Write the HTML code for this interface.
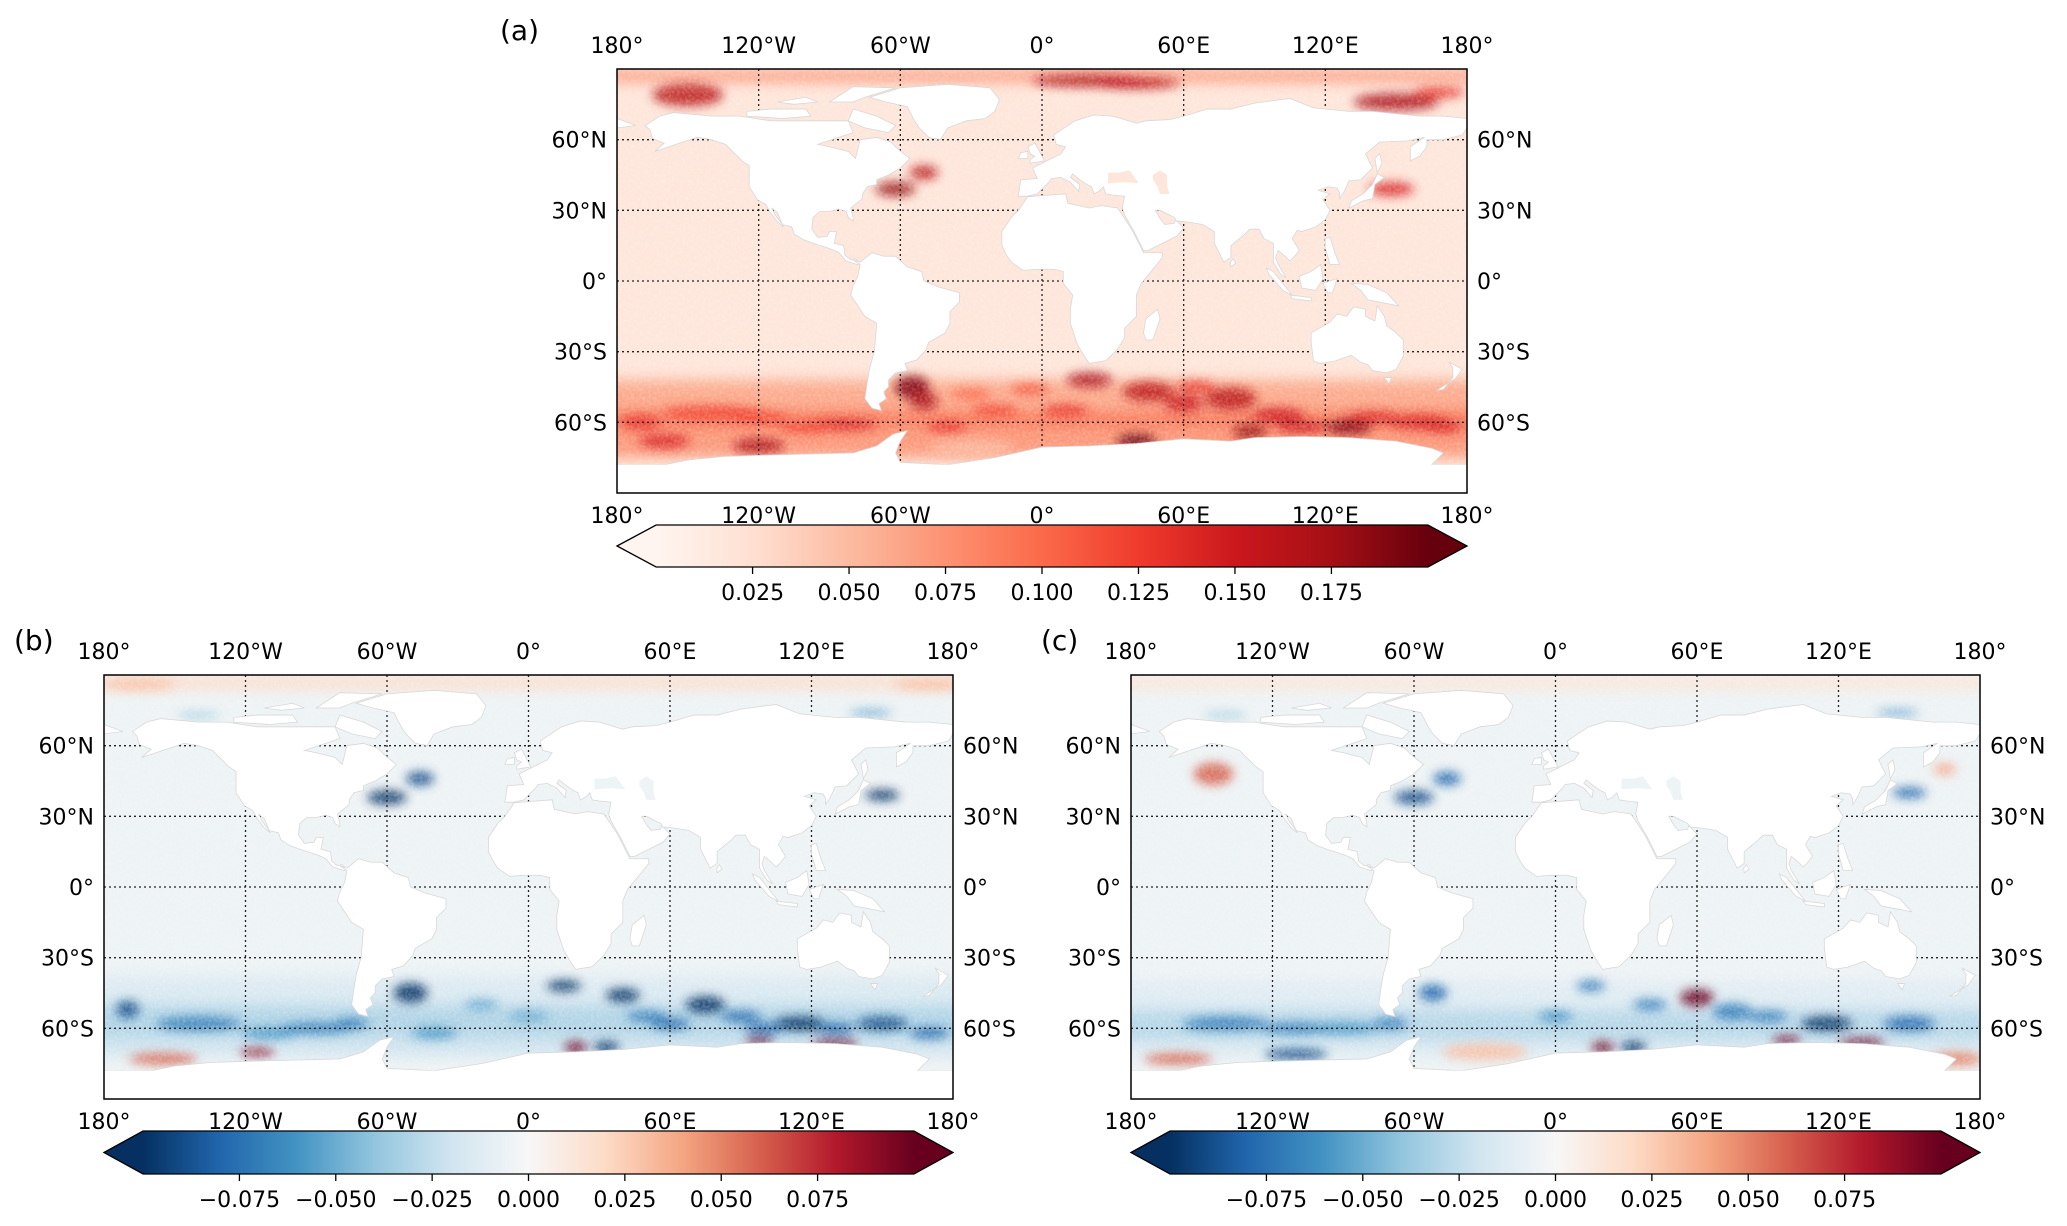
<!DOCTYPE html>
<html><head><meta charset="utf-8">
<style>
html,body{margin:0;padding:0;background:#fff;}
svg{display:block;font-family:"DejaVu Sans","Liberation Sans",sans-serif;}
</style></head>
<body>
<svg id="fig" width="2067" height="1226" viewBox="0 0 2067 1226" xmlns="http://www.w3.org/2000/svg">
<defs>
<filter id="blur6" x="-50%" y="-50%" width="200%" height="200%"><feGaussianBlur stdDeviation="7"/></filter>
<filter id="blur3" x="-50%" y="-50%" width="200%" height="200%"><feGaussianBlur stdDeviation="5"/></filter>
<filter id="noise" x="0" y="0" width="100%" height="100%">
<feTurbulence type="fractalNoise" baseFrequency="0.35" numOctaves="2" seed="3"/>
<feColorMatrix type="matrix" values="0 0 0 0 1  0 0 0 0 1  0 0 0 0 1  0 0 0 -1.6 1.0"/>
</filter>
</defs>
</svg>
<script>
// ---------- data ----------
const lonTicks=[-180,-120,-60,0,60,120,180];
const lonTickLabels=["180°","120°W","60°W","0°","60°E","120°E","180°"];
const latTicks=[60,30,0,-30,-60];
const latTickLabels=["60°N","30°N","0°","30°S","60°S"];
const cbarTicksA=[0.025,0.05,0.075,0.1,0.125,0.15,0.175];
const cbarLabelsA=["0.025","0.050","0.075","0.100","0.125","0.150","0.175"];
const cbarTicksB=[-0.075,-0.05,-0.025,0,0.025,0.05,0.075];
const cbarLabelsB=["\u22120.075","\u22120.050","\u22120.025","0.000","0.025","0.050","0.075"];
// background bands: lat north, lat south, value
const bandNA=[89,-42,-55,-62],bandSA=[85,-75,-62,-75],bandVA=[0.08,0.06,0.09,0.07];
// hotspots [lon, lat, lonSpan, latSpan, value]
const hotLonA=[-150,20,40,150,168,-62,-50,148,-55,-50,20,45,80,40,88,130,-120,-160,-85,-140,160,-30,-170,100,60,-40,-5,-120,-100,-20,10,110,140,170,65,-30];
const hotLatA=[79,85,84,76,80,39,46,39,-45,-51,-42,-47,-50,-68,-64,-62,-70,-68,-61,-56,-60,-71,-60,-57,-52,-62,-46,-58,-62,-55,-55,-62,-58,-62,-45,-48];
const hotWA=[25,40,30,30,18,14,10,16,12,10,16,18,18,14,12,16,18,18,25,35,22,30,14,18,14,14,14,20,20,16,16,18,18,14,14,14];
const hotHA=[8,4,4,6,4,5,5,5,8,6,5,7,8,5,5,5,5,5,4,5,5,6,5,5,6,4,4,4,4,4,4,4,4,4,4,4];
const hotVA=[0.16,0.17,0.16,0.17,0.13,0.18,0.16,0.14,0.19,0.17,0.17,0.16,0.16,0.2,0.18,0.19,0.17,0.14,0.14,0.12,0.14,0.05,0.13,0.15,0.15,0.13,0.11,0.12,0.12,0.12,0.13,0.15,0.14,0.14,0.13,0.1];

const bandNB=[90,-38,-50,-64],bandSB=[84,-50,-64,-72],bandVB=[0.018,-0.015,-0.03,-0.02];
const hotLonB=[-60,-46,150,-50,15,40,75,115,150,-140,-170,-155,-115,20,33,130,98,-165,170,-140,145,-90,60,-40,0,-110,-75,90,170,-20,50,100,130];
const hotLatB=[38,46,39,-45,-42,-46,-50,-58,-58,-58,-52,-73,-70,-68,-68,-66,-65,86,86,73,74,-60,-58,-62,-55,-62,-58,-55,-62,-50,-55,-60,-60];
const hotWB=[14,10,12,12,12,12,14,18,18,30,8,24,12,8,9,16,10,25,25,15,15,25,14,16,14,20,12,14,14,12,14,14,14];
const hotHB=[5,5,4,7,4,5,6,5,5,5,6,4,3,4,4,3,3,4,4,2,2,4,4,4,4,4,4,4,4,4,4,4,4];
const hotVB=[-0.1,-0.09,-0.1,-0.11,-0.1,-0.1,-0.1,-0.11,-0.09,-0.07,-0.09,0.06,0.09,0.13,-0.13,0.11,0.1,0.03,0.03,-0.04,-0.06,-0.07,-0.08,-0.06,-0.05,-0.06,-0.07,-0.08,-0.08,-0.05,-0.07,-0.08,-0.08];

const bandNC=[90,-40,-52,-65],bandSC=[84,-52,-65,-72],bandVC=[0.012,-0.012,-0.028,-0.015];
const hotLonC=[-60,-46,150,-145,-52,15,60,75,115,150,-140,-160,-110,20,33,130,98,-110,170,-140,145,-90,-30,165,-70,0,90,40];
const hotLatC=[38,46,40,48,-45,-42,-47,-53,-58,-58,-58,-73,-71,-68,-68,-66,-65,-60,-73,73,74,-60,-70,50,-58,-55,-55,-50];
const hotWC=[14,10,12,14,10,10,12,14,18,18,30,24,22,8,9,16,10,25,18,15,15,25,30,8,12,12,14,12];
const hotHC=[5,5,4,8,6,4,6,6,5,5,5,4,4,4,4,3,3,4,5,2,2,4,6,4,4,4,4,4];
const hotVC=[-0.09,-0.08,-0.08,0.06,-0.08,-0.07,0.1,-0.07,-0.1,-0.08,-0.07,0.06,-0.09,0.1,-0.13,0.11,0.1,-0.07,0.05,-0.04,-0.06,-0.06,0.03,0.04,-0.07,-0.06,-0.07,-0.07];

// ---------- land polygons (lon,lat) ----------
const LAND=[
[[-168,66],[-162,70],[-156,71.5],[-140,70],[-128,70],[-115,68],[-95,68],[-82,68],[-80,63],[-95,58],[-90,57],[-82,55],[-79,52],[-77,60],[-70,61],[-64,59],[-61,56],[-56,52],[-60,48],[-65,45],[-70,43],[-70,41],[-74,40],[-76,37],[-76,35],[-81,31],[-80,27],[-80,25.5],[-82,27],[-83,29.5],[-86,30.5],[-90,29.5],[-94,29.5],[-97,27],[-97.5,22],[-95,18.5],[-91,19],[-90,21],[-87,21],[-88,16],[-84,15],[-83.5,11],[-81,9],[-79,9.5],[-77.5,8],[-78,7],[-80,7.5],[-83,8.5],[-86,12],[-88,13],[-92,14.5],[-96,15.7],[-101,17.5],[-105,20],[-106,23],[-110,24],[-112,29],[-114.5,31],[-113,28],[-110,24],[-109.5,23],[-112,25],[-115,29],[-117,32.5],[-120.5,34.5],[-124,40],[-124,46],[-124,49],[-127,51],[-130,54],[-134,58],[-140,60],[-146,61],[-152,59],[-158,57],[-164,55],[-160,58.5],[-165,60.5],[-166,64],[-168,66]],
[[-73,78],[-60,82],[-40,83.5],[-22,82],[-18,77],[-20,72],[-24,69],[-32,68],[-40,65],[-43,60],[-48,61],[-52,65],[-54,68],[-57,74],[-66,76],[-73,78]],
[[-80,73],[-70,70],[-62,66],[-65,63],[-75,65],[-82,68]],
[[-90,76],[-80,82.5],[-62,82],[-75,78],[-80,76]],
[[-125,72],[-115,73],[-100,73],[-98,70],[-110,69],[-125,70]],
[[-112,76],[-100,78],[-95,76],[-105,75]],
[[-80,9],[-77,8],[-72,12],[-67,10.5],[-62,10.5],[-57,6],[-51,4],[-50,0],[-44,-2.5],[-35,-5],[-35,-9],[-39,-13],[-39,-18],[-41,-22],[-48,-26],[-49,-29],[-53,-33.5],[-58,-35],[-57,-38],[-62,-39],[-65,-42],[-65,-45],[-67,-47],[-66,-50],[-69,-52],[-68,-55],[-72,-54],[-75,-50],[-74,-43],[-73,-37],[-71,-30],[-70,-18],[-75,-15],[-77,-12],[-81,-6],[-80,-2],[-78,2],[-77,7]],
[[-17,15],[-17,21],[-13,27],[-10,30],[-6,35.8],[10,37],[11,33],[20,31],[25,32],[32,31],[34,28],[38,22],[43,12],[51,12],[51,10],[47,5],[42,-1],[40,-6],[40,-10],[40,-15],[35,-20],[35,-24],[32,-29],[27,-33.8],[20,-35],[18,-32],[15,-27],[12,-18],[12,-12],[13,-6],[9,-1],[9,4],[5,5],[-2,5],[-8,4.5],[-13,8],[-15,11]],
[[44,-25],[47,-25],[50,-16],[49,-12],[44,-16],[43,-22]],
[[-10,36],[-9,43],[-2,43.5],[-4,48],[2,51],[8,54],[10,57],[6,58],[5,62],[14,68],[22,70.5],[30,70],[40,67],[44,68],[54,68.5],[60,70],[70,73],[80,73],[90,75.5],[105,77.5],[115,73.5],[130,72],[140,72],[150,71],[160,70],[170,70],[180,69],[180,65],[178,62],[170,60],[163,60],[163,57],[160,53],[156,51],[156,57],[162,61],[155,59.5],[143,59],[137,54],[140,48],[135,43],[130,42.5],[128,38],[126,35],[126,37.5],[125,39.5],[121,40],[117,38.5],[122,37],[119,34.5],[122,30],[120,26],[116,23],[110,21],[108,21.5],[106,18],[109,13],[107,10.5],[105,8.5],[103,10.5],[100,13],[99,10],[100,7],[103.5,1.3],[101,3],[98,8],[98,16],[94,18],[92,22],[88,22],[86,20],[80,15],[80,10],[77,8],[73,16],[73,21],[68,24],[62,25],[57,25.5],[56,27],[50,30],[48,30],[50,26.5],[52,24],[56,24.5],[56.5,26],[60,22.5],[57,19],[52,16.5],[45,13],[43,13],[39,21],[35,28],[34,31],[35,36],[30,36.5],[27,37],[26,40],[24,38],[22,37],[21,40],[19,41],[16,43],[13,45.5],[12,44],[16,41],[15.5,38],[12,42],[8,44],[4,43.5],[3,42],[0,39],[-2,37],[-6,36]],
[[-180,69],[-172,66],[-180,65]],
[[-5,50],[1,51],[0,53],[-3,58.5],[-6,57],[-5,54],[-3,53],[-5,51.5]],
[[-10,52],[-6,52],[-6,55],[-9,54.5]],
[[130,31],[136,34],[140,35],[141,41],[145,44],[142,45.5],[140,41],[136,37],[131,34]],
[[142,46],[144,50],[143,54],[141,52]],
[[95,5.5],[98,4],[106,-6],[102,-4],[96,3]],
[[109,2],[114,4],[118,7],[119,1],[116,-4],[110,-3]],
[[105,-6],[114,-7],[114,-8.5],[106,-7.5]],
[[131,-1],[138,-1.5],[146,-5],[151,-10.5],[143,-9],[138,-8],[135,-4]],
[[120,18],[122,18.5],[124,12],[126,7],[122,7],[120,14]],
[[119,-1],[125,1],[123,-5],[121,-5]],
[[114,-22],[114,-26],[115,-34],[118,-35],[124,-34],[131,-31.5],[135,-34.5],[138,-35.5],[140,-38],[146,-39],[150,-37.5],[153,-32],[153,-25],[150,-22],[146,-19],[145,-15],[142,-10.5],[141,-17],[137,-15],[137,-12],[132,-11],[129,-15],[125,-14],[122,-17.5]],
[[145,-41],[148,-41],[147,-43.5]],
[[172.5,-34.5],[178,-37.5],[175,-41.5],[171,-44],[167,-46.5],[170,-46],[174,-41],[174,-37]],
[[80,6],[82,7.5],[81,9.5],[79.8,8]],
[[-180,-78],[-160,-78],[-150,-76],[-135,-74.5],[-120,-74],[-100,-73.5],[-80,-73],[-70,-70],[-63,-65],[-57,-63.5],[-60,-68],[-62,-73],[-60,-77],[-40,-78],[-20,-75],[0,-70.5],[20,-70],[40,-69],[60,-67],[80,-68],[90,-66.5],[110,-66],[130,-66.5],[150,-68],[165,-71],[170,-73],[165,-78],[180,-78],[180,-90],[-180,-90]]
];
const SEAS=[[[28,41.5],[28,46],[33,46],[37,47],[41,41.5],[35,42]],[[47,45],[50,47],[53,45],[53,40],[54,37],[50,37],[49,40],[47,43]]];

const REDS=["#fff5f0","#fee0d2","#fcbba1","#fc9272","#fb6a4a","#ef3b2c","#cb181d","#a50f15","#67000d"];
const RDBU=["#053061","#2166ac","#4393c3","#92c5de","#d1e5f0","#f7f7f7","#fddbc7","#f4a582","#d6604d","#b2182b","#67001f"];

// ---------- helpers ----------
const NS="http://www.w3.org/2000/svg";
const svg=document.getElementById('fig');
const defs=svg.querySelector('defs');
function mk(tag,attrs,parent){const e=document.createElementNS(NS,tag);for(const k in attrs)e.setAttribute(k,attrs[k]);(parent||svg).appendChild(e);return e;}
function hex(c){return [parseInt(c.slice(1,3),16),parseInt(c.slice(3,5),16),parseInt(c.slice(5,7),16)];}
function cmap(stops,t){t=Math.max(0,Math.min(1,t));const n=stops.length-1;const i=Math.min(n-1,Math.floor(t*n));const f=t*n-i;const a=hex(stops[i]),b=hex(stops[i+1]);return "rgb("+a.map((v,k)=>Math.round(v+(b[k]-v)*f)).join(",")+")";}

function panel(id,x0,y0,W,H,stops,vmin,vmax,base,bN,bS,bV,hL,hT,hW,hH,hV,label,lx,ly){
  const X=lon=>x0+(lon+180)*W/360, Y=lat=>y0+(90-lat)*H/180;
  const col=v=>cmap(stops,(v-vmin)/(vmax-vmin));
  const cp=mk('clipPath',{id:'clip'+id},defs);
  mk('rect',{x:x0,y:y0,width:W,height:H},cp);
  const g=mk('g',{'clip-path':'url(#clip'+id+')'});
  
  
  const bg=mk('rect',{x:x0,y:y0,width:W,height:H,fill:col(base)},g);
  
  
  const gb=mk('g',{filter:'url(#blur6)'},g);
  for(let i=0;i<bV.length;i++){
    const r=mk('rect',{x:x0-20,y:Y(bN[i]),width:W+40,height:Y(bS[i])-Y(bN[i]),fill:col(bV[i])},gb);
    
    
  }
  const gh=mk('g',{filter:'url(#blur3)'},g);
  for(let i=0;i<hV.length;i++){
    const e=mk('ellipse',{cx:X(hL[i]),cy:Y(hT[i]),rx:hW[i]*W/600,ry:hH[i]*H/300,fill:col(hV[i]),opacity:0.85},gh);
    
    
  }
  const nz=mk('rect',{x:x0,y:y0,width:W,height:H,filter:'url(#noise)',opacity:0.3},g);
  
  
  // gridlines
  const gg=mk('g',{stroke:'#222','stroke-width':1.3,'stroke-dasharray':'2,3'},g);
  for(const lo of lonTicks.slice(1,-1)){const l=mk('line',{x1:X(lo),x2:X(lo),y1:y0,y2:Y(-85)},gg);}
  for(const la of latTicks){const l=mk('line',{x1:x0,x2:x0+W,y1:Y(la),y2:Y(la)},gg);}
  // land
  const gl=mk('g',{fill:'#fff',stroke:'#d8d8d8','stroke-width':0.8},g);
  for(const poly of LAND){const p=mk('polygon',{points:poly.map(q=>X(q[0])+','+Y(q[1])).join(' ')},gl);}
  const nodata=mk('rect',{x:x0,y:Y(-78),width:W,height:Y(-90)-Y(-78),fill:'#fff'},g);
  
  
  for(const poly of SEAS){const p=mk('polygon',{points:poly.map(q=>X(q[0])+','+Y(q[1])).join(' '),fill:col(base)},g);}
  const fr=mk('rect',{x:x0,y:y0,width:W,height:H,fill:'none',stroke:'#000','stroke-width':1.5});
  
  
  // tick labels
  lonTicks.forEach((lo,i)=>{
    const t=mk('text',{x:X(lo),y:y0-16,'text-anchor':'middle','font-size':22});t.textContent=lonTickLabels[i];
    
    const b=mk('text',{x:X(lo),y:y0+H+30,'text-anchor':'middle','font-size':22});b.textContent=lonTickLabels[i];
    
  });
  latTicks.forEach((la,i)=>{
    const t=mk('text',{x:x0-10,y:Y(la)+8,'text-anchor':'end','font-size':22});t.textContent=latTickLabels[i];
    
    const r=mk('text',{x:x0+W+10,y:Y(la)+8,'text-anchor':'start','font-size':22});r.textContent=latTickLabels[i];
    
  });
  const pl=mk('text',{x:lx,y:ly,'font-size':28});pl.textContent=label;
  
}

function colorbar(id,x0,x1,y0,y1,stops,vmin,vmax,ticks,labels){
  const tri=(x1-x0)*0.046;
  const ix0=x0+tri, ix1=x1-tri;
  const lg=mk('linearGradient',{id:'grad'+id,x1:0,y1:0,x2:1,y2:0},defs);
  stops.forEach((c,i)=>mk('stop',{offset:i/(stops.length-1),'stop-color':c},lg));
  const ym=(y0+y1)/2;
  const cb=mk('g',{});
  
  
  mk('polygon',{points:`${x0},${ym} ${ix0},${y0} ${ix0},${y1}`,fill:stops[0]},cb);
  mk('polygon',{points:`${x1},${ym} ${ix1},${y0} ${ix1},${y1}`,fill:stops[stops.length-1]},cb);
  mk('rect',{x:ix0-0.5,y:y0,width:ix1-ix0+1,height:y1-y0,fill:'url(#grad'+id+')'},cb);
  mk('polygon',{points:`${x0},${ym} ${ix0},${y0} ${ix1},${y0} ${x1},${ym} ${ix1},${y1} ${ix0},${y1}`,fill:'none',stroke:'#000','stroke-width':1.3},cb);
  const Xc=v=>ix0+(v-vmin)/(vmax-vmin)*(ix1-ix0);
  ticks.forEach((v,i)=>{
    const l=mk('line',{x1:Xc(v),x2:Xc(v),y1:y1,y2:y1+7,stroke:'#000','stroke-width':1.3},cb);
    
    const t=mk('text',{x:Xc(v),y:y1+33,'text-anchor':'middle','font-size':22},cb);t.textContent=labels[i];
    
  });
}

panel('a',617,69,850,424,REDS,0,0.2,0.018,bandNA,bandSA,bandVA,hotLonA,hotLatA,hotWA,hotHA,hotVA,'(a)',500,40);
panel('b',104,675,849,424,RDBU,-0.1,0.1,-0.005,bandNB,bandSB,bandVB,hotLonB,hotLatB,hotWB,hotHB,hotVB,'(b)',14,650);
panel('c',1131,675,849,424,RDBU,-0.1,0.1,-0.005,bandNC,bandSC,bandVC,hotLonC,hotLatC,hotWC,hotHC,hotVC,'(c)',1041,650);
colorbar('a',617,1467,525,567,REDS,0,0.2,cbarTicksA,cbarLabelsA);
colorbar('b',104,953,1131,1174,RDBU,-0.1,0.1,cbarTicksB,cbarLabelsB);
colorbar('c',1131,1980,1131,1174,RDBU,-0.1,0.1,cbarTicksB,cbarLabelsB);
</script>
</body></html>
